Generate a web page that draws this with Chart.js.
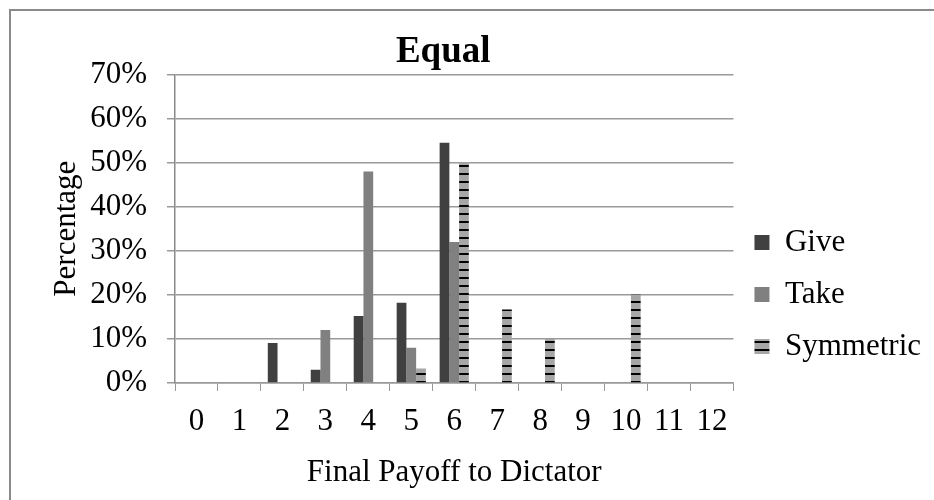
<!DOCTYPE html>
<html>
<head>
<meta charset="utf-8">
<script src="https://cdn.jsdelivr.net/npm/chart.js@4/dist/chart.umd.min.js"></script>
<style>
  html, body { margin: 0; padding: 0; background: #fff; overflow: hidden; }
  #wrap { position: relative; width: 934px; height: 500px; overflow: hidden; }
  .edge { position: absolute; background: #8a8a8a; }
  canvas { position: absolute; left: 0; top: 0; }
</style>
</head>
<body>
<div id="wrap">
  <div class="edge" style="left:9px; top:9px; width:925px; height:2px;"></div>
  <div class="edge" style="left:9px; top:9px; width:2px; height:491px;"></div>
  <canvas id="chart" width="934" height="500"></canvas>
</div>
<script>
const payoffs = ["0", "1", "2", "3", "4", "5", "6", "7", "8", "9", "10", "11", "12"];
const give = [0, 0, 9.1, 3.0, 15.2, 18.2, 54.5, 0, 0, 0, 0, 0, 0];
const take = [0, 0, 0, 12, 48, 8, 32, 0, 0, 0, 0, 0, 0];
const symmetric = [0, 0, 0, 0, 0, 3.3, 50, 16.7, 10, 0, 20, 0, 0];

// grey with black horizontal dashes, like the Excel pattern fill
function stripes() {
  const c = document.createElement("canvas");
  c.width = 8;
  c.height = 8;
  const g = c.getContext("2d");
  g.fillStyle = "#a6a6a6";
  g.fillRect(0, 0, 8, 8);
  g.fillStyle = "#000";
  g.fillRect(0, 5, 8, 2);
  return g.createPattern(c, "repeat");
}

// title in the original sits a bit left of the plot centre
const nudgeTitle = {
  id: "nudgeTitle",
  afterLayout(chart) {
    chart.titleBlock.left -= 22;
  },
};

const serif = "'Liberation Serif', 'Times New Roman', serif";
const ctx = document.getElementById("chart");

new Chart(ctx, {
  type: "bar",
  data: {
    labels: payoffs,
    datasets: [
      { label: "Give", data: give, backgroundColor: "#404040" },
      { label: "Take", data: take, backgroundColor: "#808080" },
      { label: "Symmetric", data: symmetric, backgroundColor: stripes() },
    ],
  },
  plugins: [nudgeTitle],
  options: {
    responsive: false,
    animation: false,
    categoryPercentage: 0.68,
    barPercentage: 1,
    layout: { padding: { left: 10, right: 3, top: 0, bottom: 0 } },
    plugins: {
      tooltip: { enabled: false },
      title: {
        display: true,
        text: "Equal",
        fullSize: false,
        color: "#000",
        font: { family: serif, size: 37, weight: "bold" },
        padding: { top: 30, bottom: 0 },
      },
      legend: {
        position: "right",
        align: "end",
        fullSize: false,
        labels: {
          color: "#000",
          font: { family: serif, size: 31 },
          boxWidth: 15,
          boxHeight: 15,
          padding: 21,
        },
      },
    },
    scales: {
      x: {
        offset: true,
        afterFit: (scale) => { scale.height = 117; },
        grid: { display: true, drawOnChartArea: false, offset: true, tickLength: 8, color: "#999" },
        border: { color: "#999", width: 1.5 },
        ticks: { color: "#000", font: { family: serif, size: 31 }, padding: 12, maxRotation: 0 },
        title: {
          display: true,
          text: "Final Payoff to Dictator",
          color: "#000",
          font: { family: serif, size: 31 },
          padding: { top: 10, bottom: 9 },
        },
      },
      y: {
        min: 0,
        max: 70,
        afterFit: (scale) => { scale.width = 165; },
        grid: { color: "#9a9a9a", lineWidth: 1.5, tickLength: 8 },
        border: { color: "#8a8a8a", width: 1.5 },
        ticks: {
          stepSize: 10,
          color: "#000",
          font: { family: serif, size: 31 },
          padding: 20,
          callback: (v) => v + "%",
        },
        title: {
          display: true,
          text: "Percentage",
          color: "#000",
          font: { family: serif, size: 31 },
          padding: { top: 38, bottom: 10 },
        },
      },
    },
  },
});
</script>
</body>
</html>
